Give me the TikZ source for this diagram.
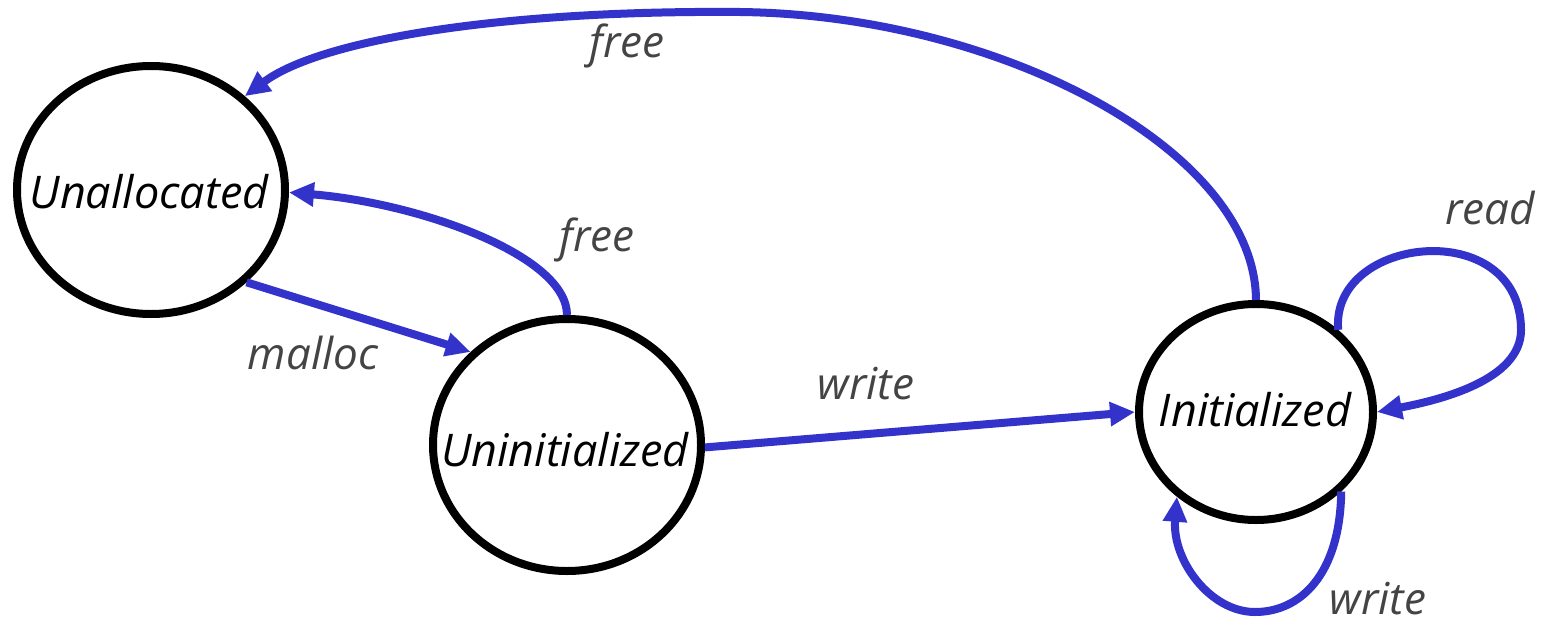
\documentclass[tikz,border=0pt]{standalone}
\usepackage{fontspec}
\setmainfont{Open Sans}
\usetikzlibrary{arrows.meta,shapes.geometric}
\definecolor{edgeblue}{RGB}{51,51,204}
\definecolor{labelgrey}{RGB}{68,68,68}
\tikzset{
  state/.style={ellipse,draw=black,line width=8pt,inner sep=0pt},
  statetext/.style={font=\fontsize{45}{50}\selectfont\itshape},
  trans/.style={draw=edgeblue,line width=8pt,-{Triangle[length=25pt,width=23pt]}},
  translabel/.style={font=\fontsize{44}{48}\selectfont\itshape,text=labelgrey,inner sep=0pt},
}
\begin{document}
\begin{tikzpicture}[x=1pt,y=-1pt]
  \fill[white] (0,0) rectangle (1549,626);
  \useasboundingbox (0,0) rectangle (1549,626);

  % states
  \node[state,minimum width=268pt,minimum height=248pt] (unalloc) at (151,190) {};
  \node[state,minimum width=268pt,minimum height=252pt] (uninit) at (567,445) {};
  \node[state,minimum width=234pt,minimum height=216pt] (init) at (1256,412) {};
  \node[statetext] (tunalloc) at (149,192) {Unallocated};
  \node[statetext] (tuninit) at (565,450) {Uninitialized};
  \node[statetext] (tinit) at (1255,410) {Initialized};

  % transitions
  \draw[trans] (unalloc.-44) -- (uninit.136);
  \draw[trans] (uninit.90) .. controls +(0,-60) and (418,203) .. (unalloc.-1);
  \draw[trans] (uninit.-1) -- (init.180);
  \draw[trans] (init.90) .. controls (1255,150) and (1000,15) .. (740,12)
                .. controls (500,10) and (320,40) .. (unalloc.45);
  % self loops
  \draw[trans] (init.45) .. controls (1330,235) and (1521,215) .. (1521,330)
                .. controls (1521,380) and (1440,400) .. (init.0);
  \draw[trans] (init.-43) .. controls (1340,575) and (1300,612) .. (1255,612)
                .. controls (1210,612) and (1172,560) .. (init.-133);

  % labels
  \node[translabel] (lfreetop) at (627,46) {free};
  \node[translabel] (lfree) at (597,240) {free};
  \node[translabel] (lmalloc) at (313,353) {malloc};
  \node[translabel] (lwrite) at (866,384) {write};
  \node[translabel] (lread) at (1490,208) {read};
  \node[translabel] (lwriteloop) at (1378,599) {write};
\end{tikzpicture}
\end{document}
